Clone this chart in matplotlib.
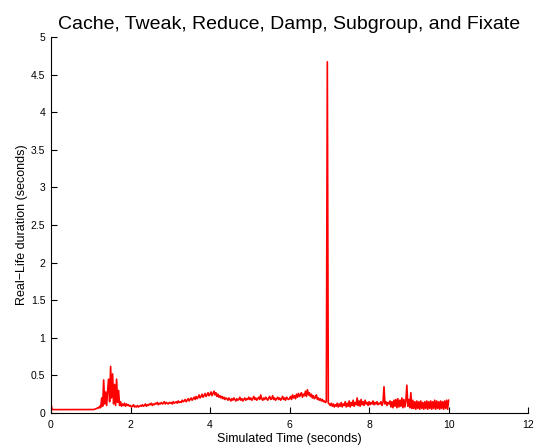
import numpy as np
import matplotlib
matplotlib.use('Agg')
import matplotlib.pyplot as plt
from matplotlib.ticker import FormatStrFormatter

plt.rcParams['font.family'] = ['Liberation Sans', 'DejaVu Sans']

# sample step of the simulation log (seconds)
dt = 0.025

# real-life duration of each step, one list per simulated second
sec0 = [0.13, 0.05, 0.045, 0.045, 0.044, 0.045, 0.045, 0.044, 0.045, 0.045,
        0.044, 0.045, 0.045, 0.045, 0.044, 0.045, 0.045, 0.044, 0.045, 0.045,
        0.045, 0.044, 0.045, 0.045, 0.044, 0.045, 0.045, 0.045, 0.044, 0.045,
        0.045, 0.044, 0.045, 0.045, 0.045, 0.044, 0.045, 0.045, 0.044, 0.045]
sec1 = [0.045, 0.045, 0.046, 0.046, 0.05, 0.055, 0.06, 0.07, 0.065, 0.09,
        0.07, 0.20, 0.09, 0.44, 0.12, 0.28, 0.10, 0.30, 0.45, 0.15,
        0.62, 0.20, 0.52, 0.12, 0.38, 0.10, 0.45, 0.14, 0.30, 0.10,
        0.15, 0.09, 0.12, 0.10, 0.13, 0.09, 0.12, 0.10, 0.11, 0.09]
sec2 = [0.10, 0.08, 0.09, 0.11, 0.08, 0.09, 0.08, 0.10, 0.08, 0.09,
        0.10, 0.09, 0.11, 0.09, 0.10, 0.12, 0.09, 0.11, 0.10, 0.12,
        0.11, 0.13, 0.10, 0.12, 0.11, 0.13, 0.12, 0.14, 0.11, 0.13,
        0.12, 0.14, 0.12, 0.13, 0.15, 0.12, 0.14, 0.13, 0.12, 0.14]
sec3 = [0.13, 0.14, 0.12, 0.15, 0.13, 0.14, 0.15, 0.13, 0.16, 0.14,
        0.15, 0.14, 0.17, 0.15, 0.16, 0.18, 0.15, 0.17, 0.19, 0.16,
        0.18, 0.20, 0.17, 0.19, 0.21, 0.18, 0.22, 0.19, 0.21, 0.24,
        0.20, 0.22, 0.25, 0.21, 0.23, 0.26, 0.22, 0.24, 0.27, 0.23]
sec4 = [0.25, 0.28, 0.23, 0.26, 0.29, 0.24, 0.27, 0.22, 0.25, 0.21,
        0.23, 0.20, 0.22, 0.19, 0.21, 0.18, 0.20, 0.19, 0.17, 0.20,
        0.18, 0.16, 0.19, 0.17, 0.20, 0.18, 0.16, 0.19, 0.17, 0.18,
        0.21, 0.17, 0.19, 0.16, 0.18, 0.20, 0.17, 0.19, 0.18, 0.21]
sec5 = [0.18, 0.20, 0.17, 0.19, 0.22, 0.18, 0.20, 0.17, 0.19, 0.21,
        0.18, 0.24, 0.19, 0.17, 0.20, 0.18, 0.21, 0.19, 0.17, 0.20,
        0.22, 0.18, 0.19, 0.23, 0.18, 0.20, 0.17, 0.19, 0.21, 0.18,
        0.20, 0.17, 0.19, 0.22, 0.18, 0.20, 0.17, 0.21, 0.19, 0.18]
sec6 = [0.19, 0.22, 0.18, 0.24, 0.20, 0.23, 0.19, 0.25, 0.21, 0.26,
        0.22, 0.24, 0.27, 0.21, 0.25, 0.23, 0.29, 0.22, 0.31, 0.24,
        0.27, 0.22, 0.25, 0.20, 0.23, 0.19, 0.21, 0.24, 0.18, 0.20,
        0.17, 0.19, 0.16, 0.18, 0.15, 0.16, 0.14, 0.15, 4.67, 0.13]
sec7 = [0.12, 0.10, 0.13, 0.09, 0.12, 0.08, 0.11, 0.09, 0.13, 0.08,
        0.12, 0.09, 0.14, 0.08, 0.12, 0.10, 0.15, 0.08, 0.13, 0.09,
        0.16, 0.08, 0.14, 0.10, 0.17, 0.09, 0.14, 0.11, 0.20, 0.10,
        0.16, 0.09, 0.18, 0.11, 0.15, 0.10, 0.17, 0.12, 0.14, 0.10]
sec8 = [0.15, 0.11, 0.14, 0.12, 0.16, 0.11, 0.14, 0.12, 0.15, 0.11,
        0.13, 0.12, 0.15, 0.10, 0.14, 0.35, 0.12, 0.15, 0.10, 0.14,
        0.12, 0.16, 0.08, 0.15, 0.07, 0.17, 0.09, 0.18, 0.07, 0.19,
        0.08, 0.17, 0.09, 0.20, 0.07, 0.18, 0.08, 0.16, 0.37, 0.09]
sec9 = [0.18, 0.07, 0.27, 0.06, 0.17, 0.06, 0.15, 0.05, 0.16, 0.06,
        0.15, 0.05, 0.16, 0.06, 0.14, 0.05, 0.15, 0.06, 0.16, 0.05,
        0.15, 0.06, 0.16, 0.05, 0.15, 0.06, 0.17, 0.05, 0.16, 0.06,
        0.15, 0.05, 0.16, 0.06, 0.15, 0.05, 0.16, 0.06, 0.17, 0.05,
        0.17]

duration = np.array(sec0 + sec1 + sec2 + sec3 + sec4 + sec5 + sec6 + sec7 + sec8 + sec9)
sim_time = np.arange(len(duration)) * dt

fig = plt.figure(figsize=(5.4, 4.46), dpi=100)
ax = fig.add_axes([0.0944, 0.074, 0.8836, 0.843])
ax.plot(sim_time, duration, color='#ff0000', linewidth=1.2)

ax.set_xlim(0, 12)
ax.set_ylim(0, 5)
ax.set_xticks(np.arange(0, 13, 2))
ax.set_yticks(np.arange(0, 5.01, 0.5))
ax.yaxis.set_major_formatter(FormatStrFormatter('%g'))
ax.tick_params(direction='in', length=4, width=0.8, labelsize=7.5)
ax.tick_params(axis='x', pad=5)
ax.tick_params(axis='y', pad=4)
ax.spines['top'].set_visible(False)
ax.spines['right'].set_visible(False)
ax.set_xlabel('Simulated Time (seconds)', fontsize=9, labelpad=2)
ax.set_ylabel('Real\u2212Life duration (seconds)', fontsize=9, labelpad=2)
ax.set_title('Cache, Tweak, Reduce, Damp, Subgroup, and Fixate', fontsize=14, pad=6)

fig.savefig('out.png', dpi=100)
